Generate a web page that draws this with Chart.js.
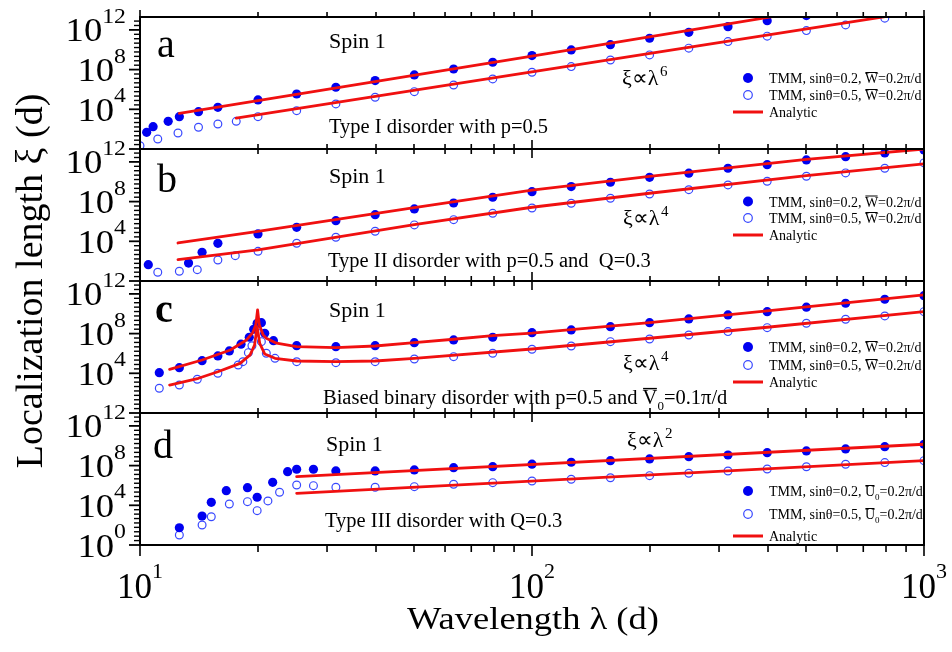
<!DOCTYPE html>
<html><head><meta charset="utf-8">
<script src="https://cdn.jsdelivr.net/npm/chart.js@4/dist/chart.umd.min.js"></script>
<style>html,body{margin:0;padding:0;background:#fff;}canvas{display:block;}</style>
</head><body>
<canvas id="c" width="952" height="652"></canvas>
<script>
// ---------------- DATA (y values stored as log10 of xi) -------------
// Panel a : Type I disorder
const aFilledLambda = [10.4, 10.8, 11.8, 12.6, 14.1, 15.8, 20, 25.1, 31.6, 39.8, 50.1, 63.1, 79.4, 100, 125.9, 158.5, 199.5, 251.2, 316.2, 398.1, 501.2];
const aFilledLogXi  = [1.68, 2.25, 2.79, 3.26, 3.76, 4.2, 4.94, 5.54, 6.22, 6.89, 7.46, 8.06, 8.74, 9.41, 9.98, 10.51, 11.16, 11.76, 12.33, 12.93, 13.44];
const aOpenLambda   = [10.0, 11.1, 12.5, 14.1, 15.8, 17.6, 20, 25.1, 31.6, 39.8, 50.1, 63.1, 79.4, 100, 125.9, 158.5, 199.5, 251.2, 316.2, 398.1, 501.2, 631, 794.3];
const aOpenLogXi    = [0.33, 1.01, 1.61, 2.19, 2.52, 2.79, 3.26, 3.86, 4.54, 5.21, 5.78, 6.45, 7.06, 7.73, 8.3, 8.97, 9.48, 10.16, 10.82, 11.37, 11.93, 12.5, 13.18];
const aFitFilledLambda = [12.6, 100, 1000];
const aFitFilledLogXi  = [3.6, 9.35, 15.85];
const aFitOpenLambda   = [17.6, 1000];
const aFitOpenLogXi    = [3.12, 13.95];

// Panel b : Type II disorder
const bFilledLambda = [10.5, 13.3, 14.4, 15.8, 20, 25.1, 31.6, 39.8, 50.1, 63.1, 79.4, 100, 125.9, 158.5, 199.5, 251.2, 316.2, 398.1, 501.2, 631, 794.3, 1000];
const bFilledLogXi  = [1.64, 1.81, 2.89, 3.8, 4.74, 5.41, 6.08, 6.68, 7.26, 7.86, 8.44, 9.0, 9.51, 9.95, 10.45, 10.86, 11.36, 11.72, 12.2, 12.53, 12.9, 13.2];
const bOpenLambda   = [11.1, 12.6, 14.0, 15.8, 17.5, 20, 25.1, 31.6, 39.8, 50.1, 63.1, 79.4, 100, 125.9, 158.5, 199.5, 251.2, 316.2, 398.1, 501.2, 631, 794.3, 1000];
const bOpenLogXi    = [0.88, 0.98, 1.14, 2.12, 2.55, 2.99, 3.8, 4.41, 5.01, 5.65, 6.18, 6.82, 7.36, 7.83, 8.34, 8.77, 9.2, 9.68, 10.05, 10.55, 10.89, 11.36, 11.9];
const bFitFilledLambda = [12.5, 20, 50.1, 100, 199.5, 501.2, 1000];
const bFitFilledLogXi  = [3.83, 5.0, 7.4, 9.15, 10.55, 12.25, 13.3];
const bFitOpenLambda   = [12.5, 20, 50.1, 100, 199.5, 501.2, 1000];
const bFitOpenLogXi    = [2.15, 3.13, 5.68, 7.43, 8.84, 10.62, 11.8];

// Panel c : Biased binary disorder
const cFilledLambda = [11.2, 12.6, 14.4, 15.8, 16.9, 18.1, 19.0, 19.5, 19.9, 20.4, 20.8, 21.9, 25.1, 31.6, 39.8, 50.1, 63.1, 79.4, 100, 125.9, 158.5, 199.5, 251.2, 316.2, 398.1, 501.2, 631, 794.3, 1000];
const cFilledLogXi  = [4.06, 4.57, 5.27, 5.75, 6.25, 6.93, 7.63, 8.44, 9.04, 9.1, 8.03, 7.29, 6.78, 6.68, 6.78, 7.09, 7.36, 7.63, 8.09, 8.37, 8.7, 9.1, 9.48, 9.88, 10.21, 10.66, 11.06, 11.46, 11.82];
const cOpenLambda   = [11.2, 12.6, 14.0, 15.8, 17.8, 18.3, 18.9, 19.3, 19.9, 20.4, 21.0, 22.1, 25.1, 31.6, 39.8, 50.1, 63.1, 79.4, 100, 125.9, 158.5, 199.5, 251.2, 316.2, 398.1, 501.2, 631, 794.3, 1000];
const cOpenLogXi    = [2.49, 2.82, 3.4, 4.0, 4.84, 5.17, 6.08, 6.78, 8.7, 7.19, 6.02, 5.51, 5.17, 5.07, 5.17, 5.44, 5.68, 6.02, 6.42, 6.75, 7.19, 7.46, 7.86, 8.2, 8.6, 9.04, 9.45, 9.78, 10.21];
const cFitFilledLambda = [11.9, 14.4, 17.0, 18.7, 19.4, 19.75, 19.95, 20.15, 20.6, 21.0, 22.3, 25.1, 31.6, 39.8, 50.1, 63.1, 79.4, 100, 125.9, 199.5, 398.1, 1000];
const cFitFilledLogXi  = [4.4, 5.34, 6.35, 7.36, 8.1, 8.9, 10.38, 8.9, 7.9, 7.53, 7.03, 6.68, 6.58, 6.75, 7.09, 7.43, 7.79, 8.05, 8.4, 9.1, 10.28, 11.9];
const cFitOpenLambda   = [11.9, 14.1, 15.8, 18.0, 19.1, 19.6, 19.9, 20.2, 20.8, 22.1, 25.1, 31.6, 39.8, 50.1, 100, 199.5, 398.1, 1000];
const cFitOpenLogXi    = [2.82, 3.5, 4.16, 5.0, 5.85, 6.85, 8.7, 7.03, 5.95, 5.51, 5.24, 5.17, 5.24, 5.51, 6.45, 7.53, 8.64, 10.21];

// Panel d : Type III disorder
const dFilledLambda = [12.6, 14.4, 15.2, 16.6, 18.8, 19.9, 21.8, 23.8, 25.1, 27.7, 31.6, 39.8, 50.1, 63.1, 79.4, 100, 125.9, 158.5, 199.5, 251.2, 316.2, 398.1, 501.2, 631, 794.3, 1000];
const dFilledLogXi  = [1.74, 2.92, 4.3, 5.47, 5.78, 4.81, 6.32, 7.39, 7.63, 7.63, 7.46, 7.46, 7.56, 7.79, 7.89, 8.14, 8.34, 8.5, 8.67, 8.9, 9.07, 9.3, 9.48, 9.68, 9.91, 10.15];
const dOpenLambda   = [12.6, 14.4, 15.2, 16.9, 18.8, 19.9, 21.2, 22.7, 25.1, 27.7, 31.6, 39.8, 50.1, 63.1, 79.4, 100, 125.9, 158.5, 199.5, 251.2, 316.2, 398.1, 501.2, 631, 794.3, 1000];
const dOpenLogXi    = [1.01, 2.02, 2.85, 4.13, 4.37, 3.46, 4.44, 5.31, 6.05, 5.98, 5.82, 5.82, 5.88, 6.12, 6.28, 6.45, 6.62, 6.78, 6.99, 7.23, 7.46, 7.66, 7.89, 8.14, 8.3, 8.5];
const dFitFilledLambda = [25.1, 1000];
const dFitFilledLogXi  = [6.89, 10.15];
const dFitOpenLambda   = [25.1, 1000];
const dFitOpenLogXi    = [5.21, 8.5];

// Axis tick labels
const xMajorTicks = [10, 100, 1000];
const xMajorExp = ['1', '2', '3'];
const xMinorTicks = [20, 30, 40, 50, 60, 70, 80, 90, 200, 300, 400, 500, 600, 700, 800, 900];
const yLabelExp = [12, 8, 4];
const yMaxExp = 13.3;

// Texts
const panelLetters = ['a', 'b', 'c', 'd'];
const panelBottomTexts = ['Type I disorder with p=0.5', 'Type II disorder with p=0.5 and  Q=0.3', null, 'Type III disorder with Q=0.3'];
const powerLawExp = ['6', '4', '4', '2'];

// ---------------- CHART -------------
const SERIF = '"Liberation Serif", "Times New Roman", serif';
const BLUE = '#0000f0';
const BLUE_OPEN = '#3848ff';
const RED = '#f01010';
const PANELS = ['ya', 'yb', 'yc', 'yd'];

const pts = (lx, ly) => lx.map((l, i) => ({x: l, y: Math.pow(10, ly[i])}));

function markerSet(label, lx, ly, axis, filled) {
  return {
    type: 'scatter', label, data: pts(lx, ly), yAxisID: axis, xAxisID: 'x', order: 2,
    showLine: false,
    pointRadius: filled ? 4.6 : 3.9,
    pointBorderWidth: filled ? 0 : 1.2,
    pointBackgroundColor: filled ? BLUE : 'rgba(0,0,0,0)',
    pointBorderColor: filled ? BLUE : BLUE_OPEN,
    pointHoverRadius: 0
  };
}
function fitSet(label, lx, ly, axis) {
  return {
    type: 'line', label, data: pts(lx, ly), yAxisID: axis, xAxisID: 'x', order: 1,
    borderColor: RED, borderWidth: 2.8, borderJoinStyle: 'round', borderCapStyle: 'round',
    pointRadius: 0, tension: 0, fill: false
  };
}

const datasets = [
  fitSet('a fit 0.2', aFitFilledLambda, aFitFilledLogXi, 'ya'),
  fitSet('a fit 0.5', aFitOpenLambda, aFitOpenLogXi, 'ya'),
  markerSet('a TMM 0.2', aFilledLambda, aFilledLogXi, 'ya', true),
  markerSet('a TMM 0.5', aOpenLambda, aOpenLogXi, 'ya', false),
  fitSet('b fit 0.2', bFitFilledLambda, bFitFilledLogXi, 'yb'),
  fitSet('b fit 0.5', bFitOpenLambda, bFitOpenLogXi, 'yb'),
  markerSet('b TMM 0.2', bFilledLambda, bFilledLogXi, 'yb', true),
  markerSet('b TMM 0.5', bOpenLambda, bOpenLogXi, 'yb', false),
  fitSet('c fit 0.2', cFitFilledLambda, cFitFilledLogXi, 'yc'),
  fitSet('c fit 0.5', cFitOpenLambda, cFitOpenLogXi, 'yc'),
  markerSet('c TMM 0.2', cFilledLambda, cFilledLogXi, 'yc', true),
  markerSet('c TMM 0.5', cOpenLambda, cOpenLogXi, 'yc', false),
  fitSet('d fit 0.2', dFitFilledLambda, dFitFilledLogXi, 'yd'),
  fitSet('d fit 0.5', dFitOpenLambda, dFitOpenLogXi, 'yd'),
  markerSet('d TMM 0.2', dFilledLambda, dFilledLogXi, 'yd', true),
  markerSet('d TMM 0.5', dOpenLambda, dOpenLogXi, 'yd', false)
];

const hidden = {
  display: true,
  ticks: {display: false},
  grid: {display: false, drawTicks: false},
  border: {display: false},
  title: {display: false}
};
function yAxis(w) {
  return Object.assign({}, hidden, {
    type: 'logarithmic', position: 'left', min: 1, max: Math.pow(10, yMaxExp),
    stack: 'panels', stackWeight: 1, weight: w,
    afterFit(s) { s.width = 0; }
  });
}

// ---------- drawing helpers ----------
function setFont(ctx, size, bold) { ctx.font = (bold ? 'bold ' : '') + size + 'px ' + SERIF; }
function measure(ctx, s, size, sx) { setFont(ctx, size); return ctx.measureText(s).width * (sx || 1); }
function put(ctx, s, x, y, size, sx, bold) {
  ctx.save(); setFont(ctx, size, bold); ctx.fillStyle = '#000';
  ctx.textAlign = 'left'; ctx.textBaseline = 'alphabetic';
  ctx.translate(x, y); if (sx) ctx.scale(sx, 1); ctx.fillText(s, 0, 0);
  const w = ctx.measureText(s).width * (sx || 1); ctx.restore(); return w;
}
// rich text: segments {t, size, dy, over}
function rich(ctx, segs, x, y) {
  let cx = x;
  segs.forEach(g => {
    const w = put(ctx, g.t, cx, y + (g.dy || 0), g.size);
    if (g.over) {
      ctx.save(); ctx.strokeStyle = '#000'; ctx.lineWidth = Math.max(1, g.size / 14);
      const oy = y + (g.dy || 0) - g.size * 0.75;
      ctx.beginPath(); ctx.moveTo(cx + 0.5, oy); ctx.lineTo(cx + w - 0.5, oy); ctx.stroke(); ctx.restore();
    }
    cx += w;
  });
  return cx - x;
}
function pow10(ctx, exp, x, yBase, main, sup, sx, supDy, align) {
  const wm = measure(ctx, '10', main, sx), ws = measure(ctx, exp, sup, sx);
  let x0 = align === 'right' ? x - wm - ws : x - (wm + ws) / 2;
  put(ctx, '10', x0, yBase, main, sx);
  put(ctx, exp, x0 + wm, yBase - supDy, sup, sx);
}
function line(ctx, x1, y1, x2, y2) { ctx.beginPath(); ctx.moveTo(x1, y1); ctx.lineTo(x2, y2); ctx.stroke(); }

function legend(ctx, xm, rows, sym) {
  const fs = 14;
  ctx.save();
  ctx.fillStyle = BLUE; ctx.beginPath(); ctx.arc(xm, rows[0], 5, 0, Math.PI * 2); ctx.fill();
  ctx.strokeStyle = BLUE_OPEN; ctx.lineWidth = 1.2; ctx.beginPath(); ctx.arc(xm, rows[1], 4.3, 0, Math.PI * 2); ctx.stroke();
  ctx.strokeStyle = RED; ctx.lineWidth = 3; line(ctx, xm - 15, rows[2], xm + 15, rows[2]);
  ctx.restore();
  const tx = xm + 21;
  ['0.2', '0.5'].forEach((s, i) => {
    const segs = [{t: 'TMM, sin\u03B8=' + s + ', ', size: fs}];
    if (sym === 'U') { segs.push({t: 'U', size: fs, over: true}); segs.push({t: '0', size: 9, dy: 4}); }
    else segs.push({t: 'W', size: fs, over: true});
    segs.push({t: '=0.2\u03C0/d', size: fs});
    rich(ctx, segs, tx, rows[i] + 5);
  });
  put(ctx, 'Analytic', tx, rows[2] + 5, fs);
}

const legendRows = [[78, 95, 112], [201.5, 218, 235], [347, 365, 382], [491, 514, 536]];
const letterPos = [[157, 57], [157, 192], [155, 322], [153, 458]];
const spinPos = [[329, 48], [329, 183], [329, 317], [326, 451]];
const bottomPos = [[329, 133], [328, 267], [323, 404], [325, 527]];
const lawPos = [[622, 85], [623, 225], [623, 370], [627, 447]];

const originPlugin = {
  id: 'originStyle',
  beforeDraw(chart) {
    const c = chart.ctx; c.save(); c.fillStyle = '#fff'; c.fillRect(0, 0, chart.width, chart.height); c.restore();
  },
  afterDraw(chart) {
    const ctx = chart.ctx, xs = chart.scales.x;
    const L = xs.left, R = xs.right;
    ctx.save();
    ctx.strokeStyle = '#000';
    PANELS.forEach((id, i) => {
      const s = chart.scales[id];
      // frame
      ctx.lineWidth = 2;
      ctx.strokeRect(L, s.top, R - L, s.bottom - s.top);
      // x ticks (outward at top and bottom of each panel)
      ctx.lineWidth = 1.6;
      const last = i === PANELS.length - 1;
      xMajorTicks.forEach(v => {
        const px = xs.getPixelForValue(v);
        line(ctx, px, s.top, px, s.top - (i === 0 ? 7 : 9));
        line(ctx, px, s.bottom, px, s.bottom + (last ? 11 : 9));
      });
      xMinorTicks.forEach(v => {
        const px = xs.getPixelForValue(v);
        line(ctx, px, s.top, px, s.top - 5);
        line(ctx, px, s.bottom, px, s.bottom + (last ? 7 : 5));
      });
      // y ticks: major every 4 decades, 8 minor between
      for (let k = 0; k * 4 / 9 <= yMaxExp + 1e-9; k++) {
        const e = k * 4 / 9;
        const py = s.getPixelForValue(Math.pow(10, e));
        const major = k % 9 === 0;
        ctx.lineWidth = major ? 1.8 : 1.4;
        line(ctx, L, py, L - (major ? 11 : 6), py);
      }
      // y tick labels
      const exps = last ? yLabelExp.concat([0]) : yLabelExp;
      exps.forEach(e => {
        const py = s.getPixelForValue(Math.pow(10, e));
        pow10(ctx, String(e), 126, py + 11.5, 34, 22, 1.08, 18.5, 'right');
      });
      // panel texts
      put(ctx, panelLetters[i], letterPos[i][0], letterPos[i][1], 40, 1, i === 2);
      put(ctx, 'Spin 1', spinPos[i][0], spinPos[i][1], 22);
      if (panelBottomTexts[i]) put(ctx, panelBottomTexts[i], bottomPos[i][0], bottomPos[i][1], 20.5);
      else rich(ctx, [
        {t: 'Biased binary disorder with p=0.5 and ', size: 20.5},
        {t: 'V', size: 20.5, over: true}, {t: '0', size: 13, dy: 6},
        {t: '=0.1\u03C0/d', size: 20.5}], bottomPos[i][0], bottomPos[i][1]);
      const wl = put(ctx, '\u03BE\u221D\u03BB', lawPos[i][0], lawPos[i][1], 22);
      put(ctx, powerLawExp[i], lawPos[i][0] + wl + 1.5, lawPos[i][1] - 9, 15);
      legend(ctx, 748, legendRows[i], i === 3 ? 'U' : 'W');
    });
    // x tick labels
    xMajorTicks.forEach((v, j) => {
      pow10(ctx, xMajorExp[j], xs.getPixelForValue(v), 598, 35, 22, 1.0, 20, 'center');
    });
    // axis titles
    const tw = measure(ctx, 'Wavelength \u03BB (d)', 32, 1.14);
    put(ctx, 'Wavelength \u03BB (d)', 533 - tw / 2, 629, 32, 1.14);
    ctx.save();
    ctx.translate(42, 281); ctx.rotate(-Math.PI / 2);
    setFont(ctx, 38); ctx.fillStyle = '#000'; ctx.textAlign = 'center'; ctx.textBaseline = 'alphabetic';
    ctx.fillText('Localization length \u03BE (d)', 0, 0);
    ctx.restore();
    ctx.restore();
  }
};

new Chart(document.getElementById('c'), {
  type: 'scatter',
  data: {datasets},
  options: {
    responsive: false, animation: false, devicePixelRatio: 1,
    layout: {padding: {left: 140, right: 28, top: 17, bottom: 107}},
    plugins: {legend: {display: false}, tooltip: {enabled: false}},
    events: [],
    scales: {
      x: Object.assign({}, hidden, {type: 'logarithmic', position: 'bottom', min: 10, max: 1000, afterFit(s) { s.height = 0; }}),
      yd: yAxis(1),
      yc: yAxis(2),
      yb: yAxis(3),
      ya: yAxis(4)
    }
  },
  plugins: [originPlugin]
});
</script>
</body></html>
